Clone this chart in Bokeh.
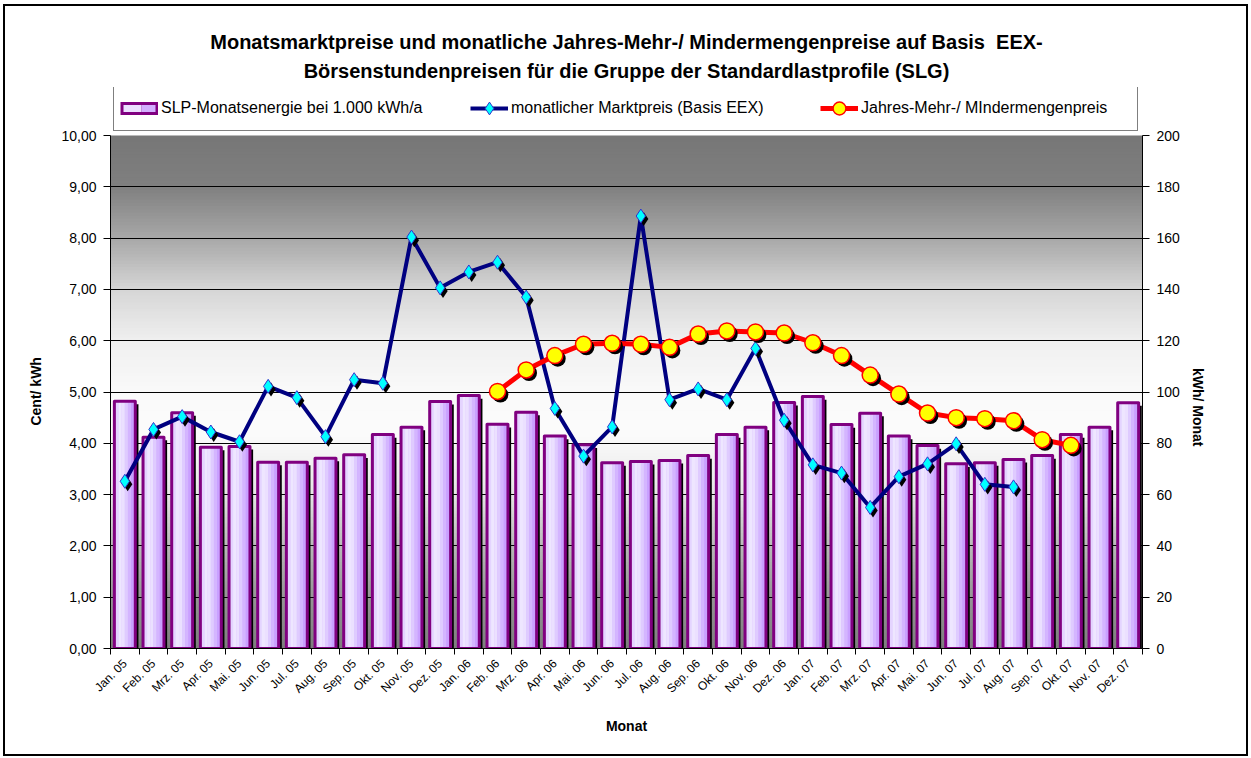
import numpy as np
from math import pi
from bokeh.plotting import figure
from bokeh.models import (Range1d, LinearAxis, FixedTicker, Legend, LegendItem, Title)
from bokeh.embed import file_html
from bokeh.resources import INLINE

# ---------------- data ----------------
months = ["Jan. 05", "Feb. 05", "Mrz. 05", "Apr. 05", "Mai. 05", "Jun. 05",
          "Jul. 05", "Aug. 05", "Sep. 05", "Okt. 05", "Nov. 05", "Dez. 05",
          "Jan. 06", "Feb. 06", "Mrz. 06", "Apr. 06", "Mai. 06", "Jun. 06",
          "Jul. 06", "Aug. 06", "Sep. 06", "Okt. 06", "Nov. 06", "Dez. 06",
          "Jan. 07", "Feb. 07", "Mrz. 07", "Apr. 07", "Mai. 07", "Jun. 07",
          "Jul. 07", "Aug. 07", "Sep. 07", "Okt. 07", "Nov. 07", "Dez. 07"]

# SLP monthly energy, kWh per month (right axis)
energy_kwh = [96.4, 82.4, 91.9, 78.5, 78.8, 72.6, 72.6, 74.2, 75.5, 83.4, 86.3, 96.3,
              98.6, 87.4, 92.1, 82.8, 79.4, 72.4, 72.9, 73.3, 75.2, 83.4, 86.3, 95.9,
              98.2, 87.3, 91.7, 82.8, 79.1, 72.0, 72.4, 73.7, 75.2, 83.4, 86.3, 95.8]

nan = float("nan")
# monthly market price (Basis EEX), Cent/kWh (left axis)
market_price = [3.26, 4.27, 4.52, 4.22, 4.03, 5.11, 4.89, 4.13, 5.24, 5.17, 8.02, 7.03,
                7.34, 7.53, 6.85, 4.68, 3.75, 4.32, 8.43, 4.85, 5.06, 4.85, 5.85, 4.45,
                3.58, 3.42, 2.75, 3.35, 3.60, 3.99, 3.20, 3.15, nan, nan, nan, nan]

# Jahres-Mehr-/Mindermengenpreis, Cent/kWh (left axis)
annual_price = [nan] * 13 + [5.01, 5.43, 5.71, 5.93, 5.95, 5.93, 5.87, 6.13, 6.19, 6.17, 6.15,
                             5.96, 5.71, 5.33, 4.96, 4.59, 4.50, 4.48, 4.44, 4.07, 3.96] + [nan] * 2

left_ticks = list(range(0, 11))
right_ticks = list(range(0, 201, 20))
left_max, right_max = 10, 200

title_line1 = "Monatsmarktpreise und monatliche Jahres-Mehr-/ Mindermengenpreise auf Basis\u00a0 EEX-"
title_line2 = "Börsenstundenpreisen für die Gruppe der Standardlastprofile (SLG)"

FONT = "Liberation Sans"
n = len(months)
x = np.arange(n)
energy = np.array(energy_kwh)
mp = np.array(market_price)
ap = np.array(annual_price)

# layout (pixels): plot area 513 px high, legend strip of 48 px sits on top of it
AREA_H = 513
LEG_H = 48
ext = (AREA_H + LEG_H) / AREA_H

p = figure(width=1245, height=752,
           x_range=Range1d(-0.5, n - 0.5), y_range=Range1d(0, left_max * ext),
           output_backend="svg", toolbar_location=None,
           min_border_left=105, min_border_right=108,
           min_border_top=81, min_border_bottom=110,
           border_fill_color="white", background_fill_color="white")
p.styles = {"border": "2px solid black", "margin": "4px 0px 0px 3px"}
p.extra_y_ranges = {"kwh": Range1d(0, right_max * ext)}
p.outline_line_color = None

# ---- background gradient of the plot area ----
stops_v = [0, 1, 2, 3, 4.2, 5, 6, 7, 8, 9, 10]
stops_g = [126, 150, 185, 230, 252, 250, 240, 214, 168, 128, 119]
nb = 160
edges = np.linspace(0, left_max, nb + 1)
mids = (edges[:-1] + edges[1:]) / 2
gv = np.interp(mids, stops_v, stops_g)
bg_colors = ["#%02x%02x%02x" % (int(g), int(g), int(g)) for g in gv]
tops = np.minimum(edges[1:] + 0.03, left_max)
p.quad(left=-0.5, right=n - 0.5, bottom=edges[:-1], top=tops,
       fill_color=bg_colors, line_color=None, level="image")

# grid
p.xgrid.visible = False
p.ygrid.ticker = FixedTicker(ticks=left_ticks[1:-1])
p.ygrid.grid_line_color = "black"
p.ygrid.grid_line_width = 1

# ---- bars ----
bw = 0.73
p.vbar(x=x + 0.11, top=energy - 1.2, bottom=0, width=bw, fill_color="black",
       line_color=None, y_range_name="kwh")
p.vbar(x=x, top=energy, bottom=0, width=bw, fill_color="#c99cff",
       line_color=None, y_range_name="kwh")
strip_cols = ["#e4d4ff", "#eee6ff", "#ebe0ff", "#dfcbff", "#d4b5ff", "#c9a0ff"]
sw = 0.11
for k, c in enumerate(strip_cols):
    off = -0.275 + k * sw
    p.vbar(x=x + off, top=energy, bottom=0, width=sw + 0.01, fill_color=c,
           line_color=None, y_range_name="kwh")
p.vbar(x=x, top=energy, bottom=0, width=bw, fill_alpha=0, line_color="#800080",
       line_width=3, line_join="round", y_range_name="kwh")

# ---- market price line ----
p.line(x, mp, line_color="#000080", line_width=4)
p.scatter(x + 0.1, mp - 0.06, marker="diamond", size=14, fill_color="black", line_color=None)
p.scatter(x, mp, marker="diamond", size=14, fill_color="#00ffff", line_color="#3333cc", line_width=1)

# ---- annual price line ----
p.line(x, ap, line_color="#ff0000", line_width=5)
p.scatter(x + 0.1, ap - 0.06, marker="circle", size=16, fill_color="black", line_color=None)
p.scatter(x, ap, marker="circle", size=16, fill_color="#ffff00", line_color="#ff0000", line_width=1.5)

# ---- legend-only renderers (one point, outside the visible ranges) ----
ox, oy = [-50], [-50]
lg_bar1 = p.line(x=ox, y=oy, line_color="#800080", line_width=13)
lg_bar2 = p.line(x=ox, y=oy, line_color="#ebe0ff", line_width=7, line_dash="0 3 18 100")
lg_bar3 = p.line(x=ox, y=oy, line_color="#d2afff", line_width=7, line_dash="0 21 14 100")
lg_b1 = p.line(x=ox, y=oy, line_color="#000080", line_width=4)
lg_b2 = p.scatter(x=ox, y=oy, marker="diamond", fill_color="#00ffff", line_color="#3333cc")
lg_r1 = p.line(x=ox, y=oy, line_color="#ff0000", line_width=5)
lg_r2 = p.scatter(x=ox, y=oy, marker="circle", fill_color="#ffff00", line_color="#ff0000", line_width=1.5)

legend = Legend(items=[
    LegendItem(label="SLP-Monatsenergie bei 1.000 kWh/a", renderers=[lg_bar1, lg_bar2, lg_bar3]),
    LegendItem(label="monatlicher Marktpreis (Basis EEX)", renderers=[lg_b1, lg_b2]),
    LegendItem(label="Jahres-Mehr-/ MIndermengenpreis", renderers=[lg_r1, lg_r2]),
], orientation="horizontal", location=(3, AREA_H + 4),
    border_line_color="black", border_line_width=1, background_fill_color="white",
    label_text_font=FONT, label_text_font_size="16px", label_text_color="black",
    glyph_width=38, glyph_height=32, label_width=270, spacing=39,
    padding=6, margin=0, label_standoff=3)
p.add_layout(legend, "center")

p.add_layout(Title(text=title_line2, align="center", text_font=FONT, text_font_size="20px",
                   text_font_style="bold", text_color="black", standoff=11), "above")
p.add_layout(Title(text=title_line1, align="center", text_font=FONT, text_font_size="20px",
                   text_font_style="bold", text_color="black", standoff=0), "above")

# ---- axes ----
xa = p.xaxis[0]
xa.ticker = FixedTicker(ticks=list(x), minor_ticks=list(np.arange(n + 1) - 0.5))
xa.major_label_overrides = {int(i): m for i, m in zip(x, months)}
xa.major_label_orientation = pi / 4
xa.major_label_text_font = FONT
xa.major_label_text_font_size = "12px"
xa.major_label_text_color = "black"
xa.major_label_standoff = 7
xa.major_tick_out = 0
xa.major_tick_in = 0
xa.minor_tick_out = 6
xa.minor_tick_in = 0
xa.minor_tick_line_color = "black"
xa.axis_line_color = "black"
xa.axis_label = "Monat"
xa.axis_label_text_font = FONT
xa.axis_label_text_font_size = "14px"
xa.axis_label_text_font_style = "bold"
xa.axis_label_text_color = "black"
xa.axis_label_standoff = 14

ya = p.yaxis[0]
ya.bounds = (0, left_max)
ya.ticker = FixedTicker(ticks=left_ticks)
ya.major_label_overrides = {t: f"{t},00" for t in left_ticks}
ya.major_label_text_font = FONT
ya.major_label_text_font_size = "14px"
ya.major_label_text_color = "black"
ya.major_label_standoff = 7
ya.major_tick_out = 7
ya.major_tick_in = 0
ya.minor_tick_out = 0
ya.minor_tick_in = 0
ya.axis_line_color = "black"
ya.axis_label = "Cent/ kWh" + "\u00a0" * 12
ya.axis_label_text_font = FONT
ya.axis_label_text_font_size = "14px"
ya.axis_label_text_font_style = "bold"
ya.axis_label_text_color = "black"
ya.axis_label_standoff = 14

ra = LinearAxis(y_range_name="kwh", ticker=FixedTicker(ticks=right_ticks))
ra.bounds = (0, right_max)
ra.major_label_text_font = FONT
ra.major_label_text_font_size = "14px"
ra.major_label_text_color = "black"
ra.major_label_standoff = 7
ra.major_tick_out = 7
ra.major_tick_in = 0
ra.minor_tick_out = 0
ra.minor_tick_in = 0
ra.axis_line_color = "black"
ra.axis_label = "kWh/ Monat" + "\u00a0" * 7
ra.axis_label_text_font = FONT
ra.axis_label_text_font_size = "14px"
ra.axis_label_text_font_style = "bold"
ra.axis_label_text_color = "black"
ra.axis_label_standoff = 15
ra.axis_label_orientation = -pi / 2
p.add_layout(ra, "right")

open("out.html", "w").write(file_html(p, INLINE))
